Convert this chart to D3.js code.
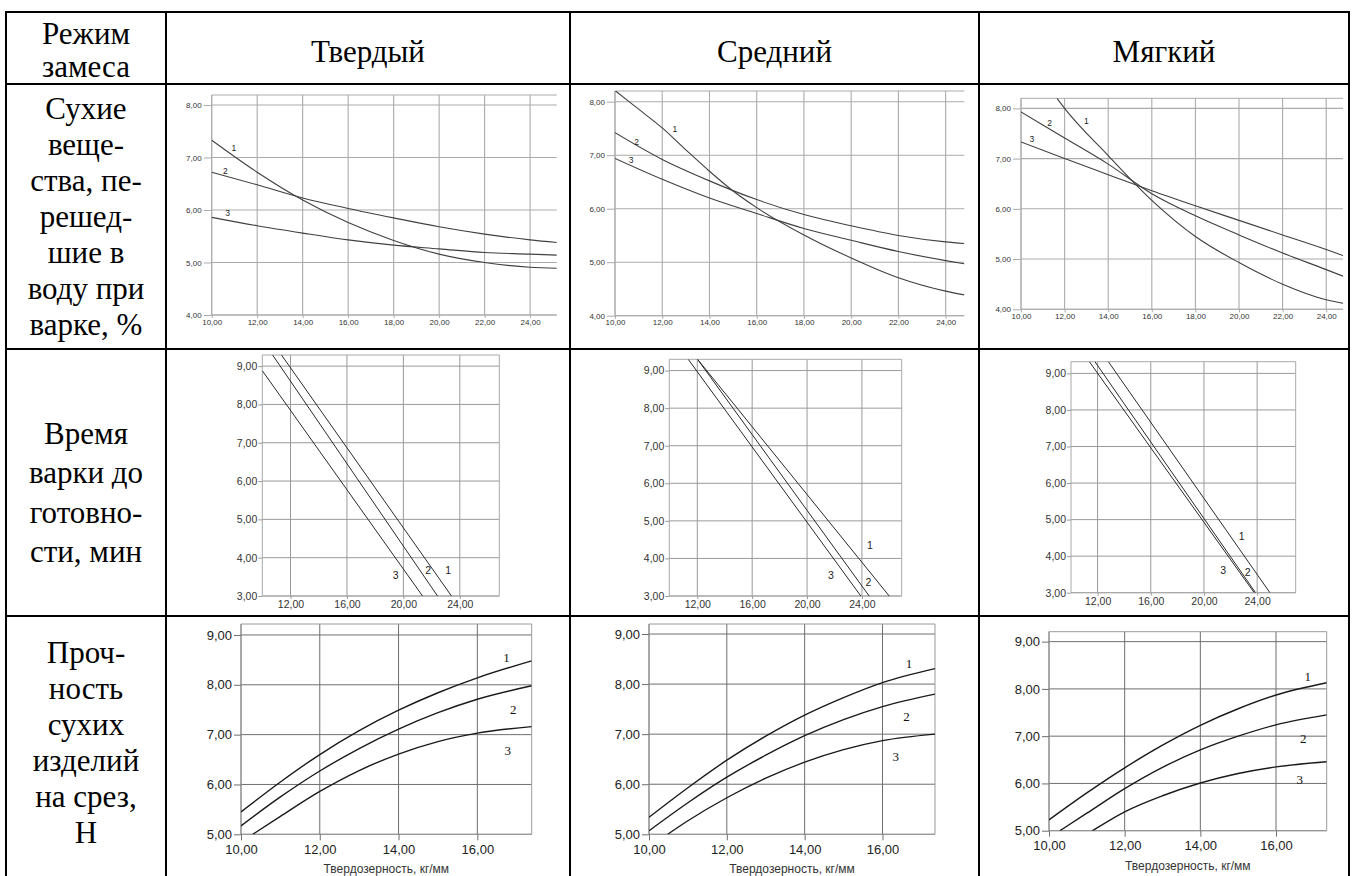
<!DOCTYPE html>
<html><head><meta charset="utf-8">
<script src="https://cdn.jsdelivr.net/npm/d3@7"></script>
<style>body{margin:0;background:#fff}svg{display:block}</style>
</head><body><svg id="c" width="1354" height="876"></svg>
<script>
// ---------------- data ----------------
const modes = ["Твердый", "Средний", "Мягкий"];
const headerLines = ["Режим", "замеса"];
const rowTitle1 = ["Сухие", "веще-", "ства, пе-", "решед-", "шие в", "воду при", "варке, %"];
const rowTitle2 = ["Время", "варки до", "готовно-", "сти, мин"];
const rowTitle3 = ["Проч-", "ность", "сухих", "изделий", "на срез,", "Н"];
const xAxisTitle = "Твердозерность, кг/мм";
const seriesNames = ["1", "2", "3"];

const solidsTicksX = [10, 12, 14, 16, 18, 20, 22, 24];
const solidsTicksY = [4, 5, 6, 7, 8];
const timeTicksX = [12, 16, 20, 24];
const timeTicksY = [3, 4, 5, 6, 7, 8, 9];
const strengthTicksX = [10, 12, 14, 16];
const strengthTicksY = [5, 6, 7, 8, 9];

// Row 1: solids passed into water during cooking, %
const solidsHardX = [10, 12, 14, 16, 18, 20, 22, 24, 25.2];
const solidsHard1 = [7.33, 6.72, 6.19, 5.76, 5.42, 5.16, 5.00, 4.91, 4.89];
const solidsHard2 = [6.72, 6.48, 6.23, 6.03, 5.85, 5.68, 5.54, 5.43, 5.38];
const solidsHard3 = [5.86, 5.70, 5.56, 5.43, 5.33, 5.26, 5.19, 5.16, 5.14];

const solidsMedX1 = [10, 11, 12, 13, 14, 15, 16, 18, 20, 22, 24, 24.8];
const solidsMed1 = [8.21, 7.86, 7.51, 7.10, 6.70, 6.33, 6.02, 5.51, 5.08, 4.71, 4.46, 4.39];
const solidsMedX = [10, 12, 14, 16, 18, 20, 22, 24, 24.8];
const solidsMed2 = [7.42, 6.92, 6.52, 6.17, 5.89, 5.68, 5.50, 5.38, 5.35];
const solidsMed3 = [6.94, 6.55, 6.20, 5.91, 5.63, 5.41, 5.20, 5.03, 4.97];

const solidsSoftX1 = [11.65, 12, 14, 16, 18, 20, 22, 24, 24.77];
const solidsSoft1 = [8.20, 8.00, 7.06, 6.17, 5.45, 4.93, 4.50, 4.19, 4.12];
const solidsSoftX = [10, 12, 14, 16, 18, 20, 22, 24, 24.77];
const solidsSoft2 = [7.93, 7.41, 6.89, 6.30, 5.86, 5.48, 5.12, 4.79, 4.66];
const solidsSoft3 = [7.33, 7.00, 6.68, 6.36, 6.06, 5.77, 5.48, 5.19, 5.07];

// Row 2: cooking time to readiness, min (straight lines, read where they meet the plot edges)
const timeHardX1 = [11.36, 23.41], timeHard1 = [9.29, 3.0];
const timeHardX2 = [10.73, 22.42], timeHard2 = [9.29, 3.0];
const timeHardX3 = [10.0, 21.36],  timeHard3 = [8.88, 3.0];

const timeMedX1 = [12.02, 25.99], timeMed1 = [9.3, 3.0];
const timeMedX2 = [12.02, 24.53], timeMed2 = [9.3, 3.0];
const timeMedX3 = [11.34, 23.92], timeMed3 = [9.3, 3.0];

const timeSoftX1 = [12.81, 24.96], timeSoft1 = [9.32, 3.0];
const timeSoftX2 = [11.80, 23.88], timeSoft2 = [9.32, 3.0];
const timeSoftX3 = [11.38, 23.78], timeSoft3 = [9.32, 3.0];

// Row 3: shear strength of dry products, N
const strengthHardX = [10, 11, 12, 13, 14, 15, 16, 17.38];
const strengthHard1 = [5.45, 6.05, 6.60, 7.08, 7.49, 7.84, 8.14, 8.48];
const strengthHard2 = [5.17, 5.75, 6.27, 6.72, 7.11, 7.44, 7.71, 7.98];
const strengthHardX3 = [10.3, 11, 12, 13, 14, 15, 16, 17.38];
const strengthHard3 = [5.00, 5.36, 5.86, 6.28, 6.61, 6.86, 7.03, 7.16];

const strengthMedX = [10, 11, 12, 13, 14, 15, 16, 17.35];
const strengthMed1 = [5.34, 5.93, 6.48, 6.96, 7.38, 7.73, 8.03, 8.31];
const strengthMed2 = [5.07, 5.63, 6.14, 6.58, 6.97, 7.29, 7.55, 7.80];
const strengthMedX3 = [10.48, 11, 12, 13, 14, 15, 16, 17.35];
const strengthMed3 = [5.00, 5.27, 5.73, 6.12, 6.44, 6.69, 6.87, 7.00];

const strengthSoftX = [10, 11, 12, 13, 14, 15, 16, 17.34];
const strengthSoft1 = [5.23, 5.80, 6.33, 6.81, 7.23, 7.58, 7.87, 8.13];
const strengthSoftX2 = [10.29, 11, 12, 13, 14, 15, 16, 17.34];
const strengthSoft2 = [5.00, 5.37, 5.89, 6.34, 6.71, 7.00, 7.24, 7.45];
const strengthSoftX3 = [11.15, 12, 13, 14, 15, 16, 17.34];
const strengthSoft3 = [5.00, 5.40, 5.74, 6.01, 6.21, 6.35, 6.46];

// ---------------- drawing ----------------
const fmt = d3.formatLocale({decimal: ",", thousands: "\u00a0", grouping: [3], currency: ["", ""]}).format(".2f");
const zip = (xs, ys) => xs.map((v, i) => [v, ys[i]]);

const svg = d3.select("#c");
svg.append("rect").attr("width", 1354).attr("height", 876).attr("fill", "#fff");

const colX = [6, 166, 570, 979, 1349];
const rowY = [12, 84, 349, 616, 900];
const SERIF = "'Liberation Serif','Times New Roman',serif";
const SANS = "'Liberation Sans',Arial,sans-serif";

const styles = {
  s1: {grid: "#ababab", gridW: 1.1, frame: "#ababab", curve: "#404040", curveW: 1.1, font: 8, tickY: 8, padY: 2, tickX: 3, padX: 1, frameRight: false, lblFont: SANS, lblSize: 8.5, lblColor: "#222", textColor: "#333", linear: false},
  s2: {grid: "#9a9a9a", gridW: 1, frame: "#a8a8a8", curve: "#2a2a2a", curveW: 1, font: 10.5, tickY: 4, padY: 1, tickX: 3, padX: 2, frameRight: true, lblFont: SANS, lblSize: 10.5, lblColor: "#222", textColor: "#333", linear: true},
  s3: {grid: "#6e6e6e", gridW: 1, frame: "#9a9a9a", curve: "#1a1a1a", curveW: 1.4, font: 13, tickY: 7, padY: 2, tickX: 6, padX: 4, frameRight: true, lblFont: SERIF, lblSize: 13, lblColor: "#111", textColor: "#222", linear: false}
};

const charts = [
  {left: 211.7, right: 556.7, top: 95, bottom: 315, xDomain: [10, 25.17], yDomain: [4, 8.19], xTicks: solidsTicksX, yTicks: solidsTicksY, st: "s1",
   series: [zip(solidsHardX, solidsHard1), zip(solidsHardX, solidsHard2), zip(solidsHardX, solidsHard3)],
   labels: [[10.98, 7.18], [10.6, 6.74], [10.7, 5.95]]},
  {left: 615, right: 964.3, top: 91, bottom: 315.7, xDomain: [10, 24.79], yDomain: [4, 8.2], xTicks: solidsTicksX, yTicks: solidsTicksY, st: "s1",
   series: [zip(solidsMedX1, solidsMed1), zip(solidsMedX, solidsMed2), zip(solidsMedX, solidsMed3)],
   labels: [[12.54, 7.49], [10.92, 7.25], [10.68, 6.91]]},
  {left: 1021, right: 1343, top: 98.3, bottom: 309.3, xDomain: [10, 24.77], yDomain: [4, 8.2], xTicks: solidsTicksX, yTicks: solidsTicksY, st: "s1",
   series: [zip(solidsSoftX1, solidsSoft1), zip(solidsSoftX, solidsSoft2), zip(solidsSoftX, solidsSoft3)],
   labels: [[13.0, 7.75], [11.31, 7.71], [10.5, 7.39]]},

  {left: 262.3, right: 499.3, top: 355, bottom: 596, xDomain: [10, 26.8], yDomain: [3, 9.29], xTicks: timeTicksX, yTicks: timeTicksY, st: "s2",
   series: [zip(timeHardX1, timeHard1), zip(timeHardX2, timeHard2), zip(timeHardX3, timeHard3)],
   labels: [[23.18, 3.68], [21.76, 3.68], [19.45, 3.55]]},
  {left: 669.3, right: 901.7, top: 359.3, bottom: 596, xDomain: [9.96, 26.9], yDomain: [3, 9.3], xTicks: timeTicksX, yTicks: timeTicksY, st: "s2",
   series: [zip(timeMedX1, timeMed1), zip(timeMedX2, timeMed2), zip(timeMedX3, timeMed3)],
   labels: [[24.59, 4.36], [24.47, 3.38], [21.74, 3.56]]},
  {left: 1071, right: 1295.7, top: 361.7, bottom: 592.7, xDomain: [10, 26.9], yDomain: [3, 9.32], xTicks: timeTicksX, yTicks: timeTicksY, st: "s2",
   series: [zip(timeSoftX1, timeSoft1), zip(timeSoftX2, timeSoft2), zip(timeSoftX3, timeSoft3)],
   labels: [[22.83, 4.55], [23.29, 3.57], [21.45, 3.62]]},

  {left: 241, right: 531.7, top: 624, bottom: 834.3, xDomain: [10, 17.38], yDomain: [5, 9.22], xTicks: strengthTicksX, yTicks: strengthTicksY, st: "s3", title: true,
   series: [zip(strengthHardX, strengthHard1), zip(strengthHardX, strengthHard2), zip(strengthHardX3, strengthHard3)],
   labels: [[16.74, 8.55], [16.91, 7.51], [16.77, 6.69]]},
  {left: 649, right: 935, top: 624, bottom: 834.3, xDomain: [10, 17.35], yDomain: [5, 9.2], xTicks: strengthTicksX, yTicks: strengthTicksY, st: "s3", title: true,
   series: [zip(strengthMedX, strengthMed1), zip(strengthMedX, strengthMed2), zip(strengthMedX3, strengthMed3)],
   labels: [[16.68, 8.41], [16.62, 7.35], [16.34, 6.55]]},
  {left: 1049, right: 1326.7, top: 631.7, bottom: 830.7, xDomain: [10, 17.34], yDomain: [5, 9.21], xTicks: strengthTicksX, yTicks: strengthTicksY, st: "s3", title: true,
   series: [zip(strengthSoftX, strengthSoft1), zip(strengthSoftX2, strengthSoft2), zip(strengthSoftX3, strengthSoft3)],
   labels: [[16.84, 8.27], [16.72, 6.96], [16.63, 6.09]]}
];

charts.forEach((c, ci) => {
  const s = styles[c.st];
  const g = svg.append("g");
  const x = d3.scaleLinear().domain(c.xDomain).range([c.left, c.right]);
  const y = d3.scaleLinear().domain(c.yDomain).range([c.bottom, c.top]);
  const clipId = "clip" + ci;
  svg.append("clipPath").attr("id", clipId).append("rect")
    .attr("x", c.left).attr("y", c.top).attr("width", c.right - c.left).attr("height", c.bottom - c.top);

  // grid lines
  g.append("g").selectAll("line").data(c.xTicks).join("line")
    .attr("x1", d => x(d)).attr("x2", d => x(d)).attr("y1", c.top).attr("y2", c.bottom)
    .attr("stroke", s.grid).attr("stroke-width", s.gridW);
  g.append("g").selectAll("line").data(c.yTicks).join("line")
    .attr("x1", c.left).attr("x2", c.right).attr("y1", d => y(d)).attr("y2", d => y(d))
    .attr("stroke", s.grid).attr("stroke-width", s.gridW);

  // frame
  const fr = g.append("g").attr("stroke", s.frame).attr("stroke-width", 1).attr("fill", "none");
  fr.append("line").attr("x1", c.left).attr("x2", c.right).attr("y1", c.top).attr("y2", c.top);
  fr.append("line").attr("x1", c.left).attr("x2", c.left).attr("y1", c.top).attr("y2", c.bottom);
  fr.append("line").attr("x1", c.left).attr("x2", c.right).attr("y1", c.bottom).attr("y2", c.bottom);
  if (s.frameRight) fr.append("line").attr("x1", c.right).attr("x2", c.right).attr("y1", c.top).attr("y2", c.bottom);

  // axes
  const ya = g.append("g").attr("transform", `translate(${c.left},0)`)
    .call(d3.axisLeft(y).tickValues(c.yTicks).tickFormat(fmt).tickSize(s.tickY).tickPadding(s.padY));
  const xa = g.append("g").attr("transform", `translate(0,${c.bottom})`)
    .call(d3.axisBottom(x).tickValues(c.xTicks).tickFormat(fmt).tickSize(s.tickX).tickPadding(s.padX));
  [ya, xa].forEach(a => {
    a.select(".domain").remove();
    a.selectAll(".tick line").attr("stroke", s.grid);
    a.selectAll("text").attr("font-family", SANS).attr("font-size", s.font).attr("fill", s.textColor);
  });

  // curves
  const line = d3.line().x(d => x(d[0])).y(d => y(d[1]))
    .curve(s.linear ? d3.curveLinear : d3.curveMonotoneX);
  g.append("g").attr("clip-path", `url(#${clipId})`).selectAll("path").data(c.series).join("path")
    .attr("d", line).attr("fill", "none").attr("stroke", s.curve).attr("stroke-width", s.curveW);

  // curve labels
  g.append("g").selectAll("text").data(c.labels).join("text")
    .attr("x", d => x(d[0])).attr("y", d => y(d[1]))
    .attr("text-anchor", "middle").attr("dominant-baseline", "central")
    .attr("font-family", s.lblFont).attr("font-size", s.lblSize).attr("fill", s.lblColor)
    .text((d, i) => seriesNames[i]);

  if (c.title) {
    g.append("text").attr("x", (c.left + c.right) / 2).attr("y", c.bottom + 35)
      .attr("text-anchor", "middle").attr("dominant-baseline", "central")
      .attr("font-family", SANS).attr("font-size", 12).attr("fill", "#333").text(xAxisTitle);
  }
});

// ---------------- table ----------------
const tbl = svg.append("g").attr("stroke", "#000").attr("stroke-width", 2);
colX.forEach(cx => tbl.append("line").attr("x1", cx).attr("x2", cx).attr("y1", rowY[0] - 1).attr("y2", 876));
rowY.slice(0, 4).forEach(ry => tbl.append("line").attr("x1", colX[0] - 1).attr("x2", colX[4] + 1).attr("y1", ry).attr("y2", ry));

const txt = svg.append("g").attr("font-family", SERIF).attr("font-size", 31).attr("fill", "#000")
  .attr("text-anchor", "middle").attr("dominant-baseline", "central");
const c0 = (colX[0] + colX[1]) / 2;
headerLines.forEach((t, i) => txt.append("text").attr("x", c0).attr("y", 33 + i * 33).text(t));
modes.forEach((m, i) => txt.append("text").attr("x", (colX[i + 1] + colX[i + 2]) / 2).attr("y", 51).text(m));
rowTitle1.forEach((t, i) => txt.append("text").attr("x", c0).attr("y", 108 + i * 36).text(t));
rowTitle2.forEach((t, i) => txt.append("text").attr("x", c0).attr("y", 433 + i * 39.5).text(t));
rowTitle3.forEach((t, i) => txt.append("text").attr("x", c0).attr("y", 652 + i * 36).text(t));
</script>
</body></html>
